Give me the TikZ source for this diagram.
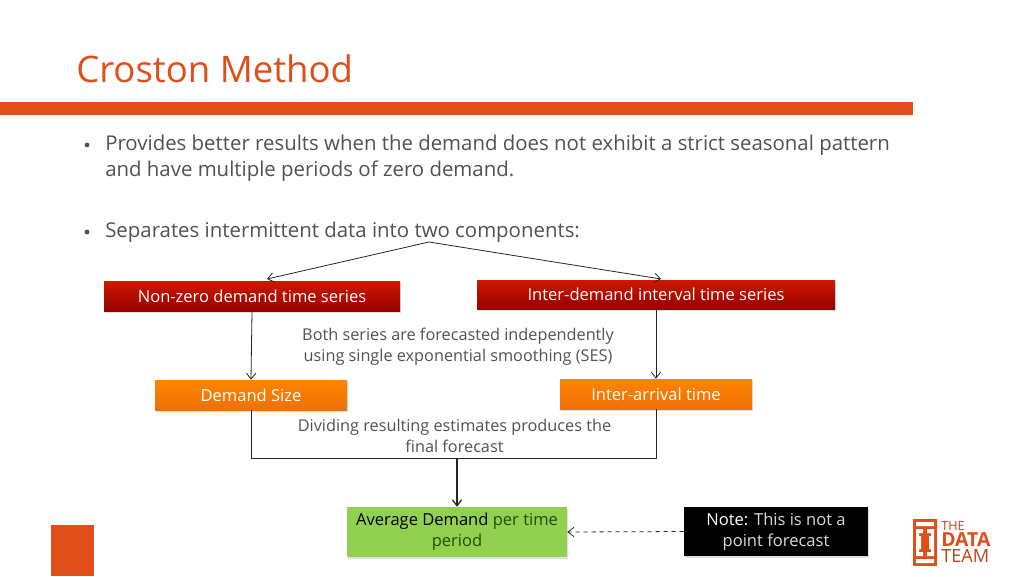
\documentclass[tikz,border=0pt]{standalone}
\usepackage{fontspec}
\setmainfont{Open Sans}
\usetikzlibrary{shadows,arrows.meta}
\definecolor{brand}{RGB}{224,78,26}
\definecolor{txt}{RGB}{82,82,82}
\definecolor{leaf}{RGB}{146,208,80}
\definecolor{leaftxt}{RGB}{30,80,10}
\tikzset{
	px/.style={x=0.75pt,y=-0.75pt},
	flat/.style={text=white,font=\fontsize{12.4}{15.5}\selectfont,align=center,inner sep=0pt,drop shadow={shadow xshift=0.6pt,shadow yshift=-1.2pt,opacity=0.25}},
	redbox/.style={flat,top color={rgb,255:red,205;green,25;blue,0},bottom color={rgb,255:red,150;green,0;blue,0}},
	orangebox/.style={flat,top color={rgb,255:red,255;green,132;blue,0},bottom color={rgb,255:red,238;green,112;blue,10}},
	greenbox/.style={flat,fill=leaf,text=black},
	notebox/.style={flat,fill=black},
	bodytext/.style={anchor=west,align=left,text=txt,inner sep=0pt,font=\fontsize{15.3}{19.3}\selectfont},
	midtext/.style={align=center,text=txt,inner sep=0pt,font=\fontsize{12.2}{15.5}\selectfont},
	link/.style={draw=black!85,line width=0.6pt},
	logotext/.style={anchor=west,inner sep=0pt,text height=0.72em,text depth=0pt},
}
\begin{document}
\begin{tikzpicture}[px,>={Straight Barb[length=4.5pt,width=7pt]},line join=round]
	\useasboundingbox (0,0) rectangle (1024,576);
	\fill[white] (0,0) rectangle (1024,576);
	\fill[brand] (0,102) rectangle (913,115);
	\fill[brand] (51,525) rectangle (94,576);
	\node[anchor=west,inner sep=0pt,text=brand,font=\fontsize{27.4}{32}\selectfont] (title) at (76,68.5) {Croston Method};
	%bullets
	\node[bodytext] (first) at (105,158) {Provides better results when the demand does not exhibit a strict seasonal pattern\\and have multiple periods of zero demand.};
	\node[bodytext] (second) at (105,232.5) {Separates intermittent data into two components:};
	\fill[txt] (87,145) circle (2.4) (87,232) circle (2.4);
	%boxes
	\node[redbox,minimum width=296*0.75pt,minimum height=30*0.75pt] (nonzero) at (252,296) {Non-zero demand time series};
	\node[redbox,minimum width=358*0.75pt,minimum height=29*0.75pt] (interval) at (656,294.5) {Inter-demand interval time series};
	\node[orangebox,minimum width=192*0.75pt,minimum height=30*0.75pt] (size) at (251,395) {Demand Size};
	\node[orangebox,minimum width=192*0.75pt,minimum height=30*0.75pt] (arrival) at (656,394) {Inter-arrival time};
	\node[greenbox,minimum width=220*0.75pt,minimum height=50*0.75pt] (average) at (457,532) {Average Demand {\color{leaftxt}per time}\\{\color{leaftxt}period}};
	\node[notebox,minimum width=184*0.75pt,minimum height=49*0.75pt] (note) at (776,531.5) {Note: {\color{white!85!black}This is not a}\\{\color{white!85!black}point forecast}};
	\node[midtext] (both) at (458,347) {Both series are forecasted independently\\using single exponential smoothing (SES)};
	\node[midtext] (dividing) at (454.5,436) {Dividing resulting estimates produces the\\final forecast};
	%links
	\coordinate (fork) at (429,242);
	\coordinate (join) at (457,458);
	\draw[link,->] (fork)--(267,279);
	\draw[link,->] (fork)--(661,279);
	\draw[link,->] (nonzero.south)--(size.north);
	\draw[link,->] (interval.south)--(arrival.north);
	\draw[link] (size.south)|-(join)-|(arrival.south);
	\draw[link,->,line width=0.9pt] (join)--(average.north);
	\draw[link,->,dashed] (note.west)--(average.east);
	%logo
	\fill[brand] (913,519) rectangle (937,566);
	\fill[white] (916,522) rectangle (934,526) (916,559) rectangle (934,563);
	\fill[white] (916,529) rectangle (923,533) (927,529) rectangle (934,533) (916,552) rectangle (923,556) (927,552) rectangle (934,556);
	\fill[white] (916,533) rectangle (919,552) (931,533) rectangle (934,552) (919,536) rectangle (921,549) (929,536) rectangle (931,549);
	\node[logotext,text=brand!85!black,font=\fontsize{9.5}{9.5}\selectfont] (the) at (941,525.5) {THE};
	\node[logotext,text=brand,font=\fontsize{14.5}{14.5}\bfseries\selectfont] (data) at (941,541.5) {DATA};
	\node[logotext,text=brand!85!black,font=\fontsize{13.6}{14}\selectfont] (team) at (941,558) {TEAM};
\end{tikzpicture}
\end{document}
